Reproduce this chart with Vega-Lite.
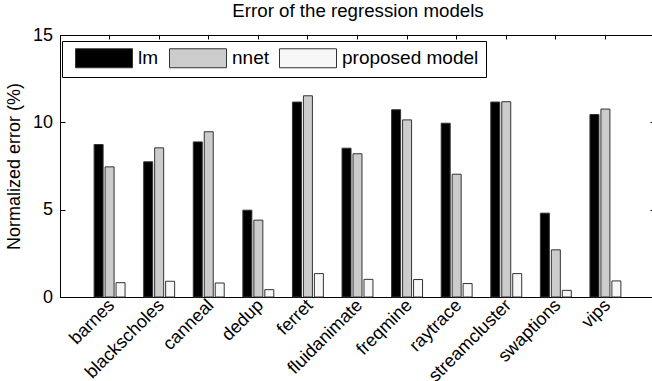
{
  "$schema": "https://vega.github.io/schema/vega-lite/v6.json",
  "autosize": {"type": "none"},
  "padding": {"left": 60, "top": 35, "right": 0, "bottom": 84},
  "width": 595,
  "height": 262,
  "data": {"values": [
    {"bench": "barnes", "model": "lm", "err": 8.73},
    {"bench": "barnes", "model": "nnet", "err": 7.45},
    {"bench": "barnes", "model": "proposed model", "err": 0.82},
    {"bench": "blackscholes", "model": "lm", "err": 7.74},
    {"bench": "blackscholes", "model": "nnet", "err": 8.54},
    {"bench": "blackscholes", "model": "proposed model", "err": 0.9},
    {"bench": "canneal", "model": "lm", "err": 8.88},
    {"bench": "canneal", "model": "nnet", "err": 9.46},
    {"bench": "canneal", "model": "proposed model", "err": 0.8},
    {"bench": "dedup", "model": "lm", "err": 4.97},
    {"bench": "dedup", "model": "nnet", "err": 4.4},
    {"bench": "dedup", "model": "proposed model", "err": 0.42},
    {"bench": "ferret", "model": "lm", "err": 11.16},
    {"bench": "ferret", "model": "nnet", "err": 11.52},
    {"bench": "ferret", "model": "proposed model", "err": 1.34},
    {"bench": "fluidanimate", "model": "lm", "err": 8.52},
    {"bench": "fluidanimate", "model": "nnet", "err": 8.2},
    {"bench": "fluidanimate", "model": "proposed model", "err": 1.01},
    {"bench": "freqmine", "model": "lm", "err": 10.72},
    {"bench": "freqmine", "model": "nnet", "err": 10.14},
    {"bench": "freqmine", "model": "proposed model", "err": 1.0},
    {"bench": "raytrace", "model": "lm", "err": 9.95},
    {"bench": "raytrace", "model": "nnet", "err": 7.03},
    {"bench": "raytrace", "model": "proposed model", "err": 0.77},
    {"bench": "streamcluster", "model": "lm", "err": 11.16},
    {"bench": "streamcluster", "model": "nnet", "err": 11.18},
    {"bench": "streamcluster", "model": "proposed model", "err": 1.34},
    {"bench": "swaptions", "model": "lm", "err": 4.8},
    {"bench": "swaptions", "model": "nnet", "err": 2.7},
    {"bench": "swaptions", "model": "proposed model", "err": 0.38},
    {"bench": "vips", "model": "lm", "err": 10.45},
    {"bench": "vips", "model": "nnet", "err": 10.76},
    {"bench": "vips", "model": "proposed model", "err": 0.92}
  ]},
  "layer": [
    {
      "mark": {"type": "bar", "stroke": "#333", "strokeWidth": 1},
      "encoding": {
        "x": {"field": "bench", "type": "nominal", "sort": null,
          "scale": {"paddingInner": 0, "paddingOuter": 0.5},
          "axis": {"title": null, "labelAngle": -45, "labelAlign": "right", "labelBaseline": "top", "labelFont": "Liberation Sans", "labelFontSize": 18, "labelColor": "#000", "tickSize": -4, "tickColor": "#000", "domainColor": "#000", "labelPadding": 3, "labelOffset": -4}},
        "xOffset": {"field": "model", "type": "nominal", "scale": {"paddingInner": 0.18, "paddingOuter": 0.85}},
        "y": {"field": "err", "type": "quantitative",
          "scale": {"domain": [0, 15], "nice": false},
          "axis": {"title": "Normalized error (%)", "values": [0, 5, 10, 15], "grid": false, "labelFont": "Liberation Sans", "labelFontSize": 18, "labelColor": "#000", "titleFont": "Liberation Sans", "titleFontSize": 18, "titleFontWeight": "normal", "titleColor": "#000", "tickSize": -5, "tickColor": "#000", "domainColor": "#000", "labelPadding": 12.5, "titlePadding": 9}},
        "color": {"field": "model", "type": "nominal",
          "scale": {"domain": ["lm", "nnet", "proposed model"], "range": ["#000000", "#cccccc", "#f7f7f7"]},
          "legend": {"title": null, "orient": "none", "legendX": 2, "legendY": 6, "direction": "horizontal", "columns": 3,
            "symbolType": "M-3,-1L3,-1L3,1L-3,1Z", "symbolSize": 361, "symbolOffset": 25, "symbolStrokeColor": "#333", "symbolStrokeWidth": 1, "symbolOpacity": 1,
            "labelFont": "Liberation Sans", "labelFontSize": 19, "labelColor": "#000", "labelOffset": 24, "columnPadding": 4,
            "padding": 7, "strokeColor": "#000", "fillColor": "#fff"}}
      }
    },
    {
      "mark": {"type": "bar", "opacity": 0},
      "encoding": {
        "x": {"field": "bench", "type": "nominal", "sort": null,
          "axis": {"orient": "top", "title": "Error of the regression models", "titleFont": "Liberation Sans", "titleFontSize": 18.7, "titleFontWeight": "normal", "titleColor": "#000", "titlePadding": 14, "labels": false, "tickSize": -4, "tickColor": "#000", "domainColor": "#000"}},
        "y": {"field": "err", "type": "quantitative",
          "axis": {"orient": "right", "title": null, "labels": false, "values": [0, 5, 10, 15], "grid": false, "tickSize": -5, "tickColor": "#000", "domainColor": "#000"}}
      }
    }
  ],
  "resolve": {"axis": {"x": "independent", "y": "independent"}},
  "config": {"view": {"stroke": "#000", "strokeWidth": 1}, "axis": {"domainWidth": 1, "tickWidth": 1}}
}
